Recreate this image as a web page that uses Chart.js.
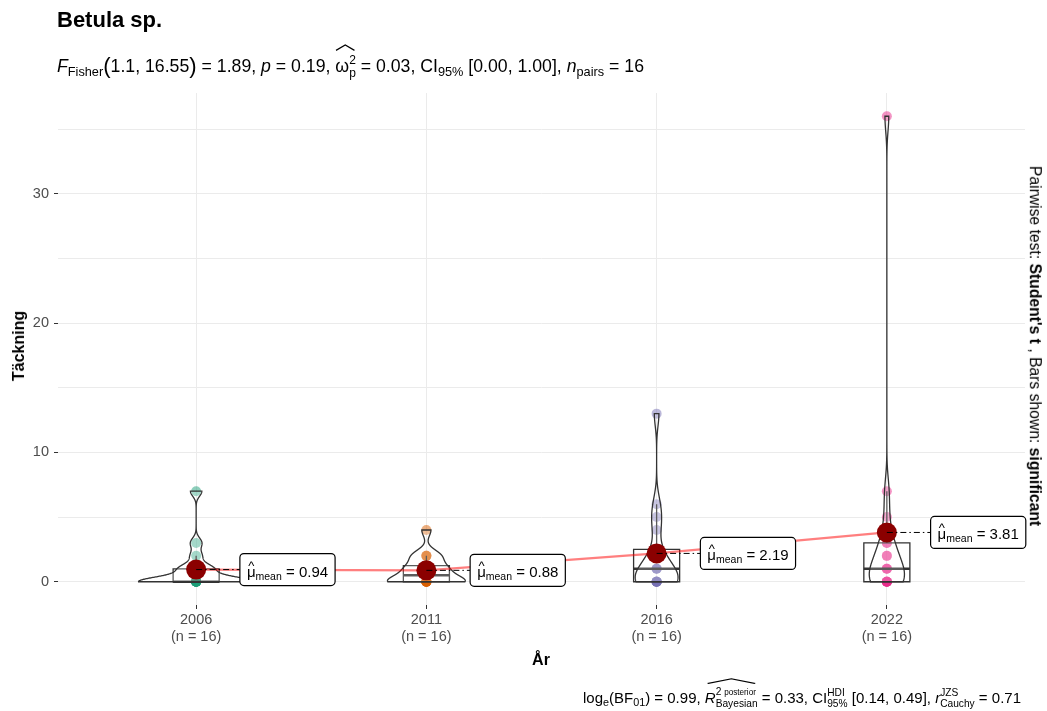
<!DOCTYPE html>
<html>
<head>
<meta charset="utf-8">
<script src="https://cdn.jsdelivr.net/npm/chart.js@4.4.1/dist/chart.umd.min.js"></script>
<style>
  body { margin: 0; background: #fff; font-family: "Liberation Sans", Arial, sans-serif; }
  #wrap { position: relative; width: 1047px; height: 711px; overflow: hidden; }
  #chart { position: absolute; left: 0; top: 0; }
  .txt { position: absolute; white-space: nowrap; color: #000; line-height: 1; }
  .sb { font-size: 0.72em; position: relative; top: 0.3em; }
  .st { display: inline-block; font-size: 0.68em; line-height: 1.1; vertical-align: -0.42em; text-align: left; }
  .st > span { display: block; }
  .hw { position: relative; display: inline-block; }
  .hat { position: absolute; left: 0; width: 100%; top: -0.55em; height: 0.4em; overflow: visible; }
  .par { font-size: 1.25em; position: relative; top: 0.05em; }
  #title { left: 57px; top: 9px; font-size: 22px; font-weight: bold; }
  #subtitle { left: 57px; top: 54px; font-size: 17.7px; }
  #ytitle { left: 19px; top: 346px; font-size: 16px; font-weight: bold; transform: translate(-50%, -50%) rotate(-90deg); }
  #xtitle { left: 541px; top: 660px; font-size: 16px; font-weight: bold; transform: translate(-50%, -50%); }
  #caption { right: 26px; top: 686px; font-size: 15px; }
  #sidetext { left: 1035px; top: 346px; font-size: 15.7px; transform: translate(-50%, -50%) rotate(90deg); }
</style>
</head>
<body>
<div id="wrap">
  <canvas id="chart" width="1047" height="711"></canvas>
  <div id="title" class="txt">Betula sp.</div>
  <div id="subtitle" class="txt"><i>F</i><span class="sb">Fisher</span><span class="par">(</span>1.1, 16.55<span class="par">)</span> = 1.89, <i>p</i> = 0.19, <span class="hw">ω<span class="st"><span>2</span><span>p</span></span><svg class="hat" viewBox="0 0 20 6" preserveAspectRatio="none"><path d="M1 5.5 L10 0.8 L19 5.5" fill="none" stroke="#000" stroke-width="1.2"/></svg></span> = 0.03, CI<span class="sb">95%</span> [0.00, 1.00], <i>n</i><span class="sb">pairs</span> = 16</div>
  <div id="ytitle" class="txt">Täckning</div>
  <div id="xtitle" class="txt">År</div>
  <div id="caption" class="txt">log<span class="sb">e</span>(BF<span class="sb">01</span>) = 0.99, <span class="hw"><i>R</i><span class="st"><span>2 <span style="font-size:0.8em">posterior</span></span><span>Bayesian</span></span><svg class="hat" viewBox="0 0 20 6" preserveAspectRatio="none"><path d="M1 5.5 L10 0.8 L19 5.5" fill="none" stroke="#000" stroke-width="1"/></svg></span> = 0.33, CI<span class="st"><span>HDI</span><span>95%</span></span> [0.14, 0.49], <i>r</i><span class="st"><span>JZS</span><span>Cauchy</span></span> = 0.71</div>
  <div id="sidetext" class="txt">Pairwise test: <b>Student's t</b> , Bars shown: <b>significant</b></div>
</div>
<script>
// cover (Täckning) per plot, one array per survey year
const years = ["2006", "2011", "2016", "2022"];
const groupSizes = [16, 16, 16, 16];
const cover2006 = [7, 3, 2, 1, 1, 1, 0, 0, 0, 0, 0, 0, 0, 0, 0, 0];
const cover2011 = [4, 2, 2, 2, 1, 1, 1, 1, 0, 0, 0, 0, 0, 0, 0, 0];
const cover2016 = [13, 6, 5, 4, 2, 2, 1, 1, 1, 0, 0, 0, 0, 0, 0, 0];
const cover2022 = [36, 7, 5, 3, 3, 2, 2, 1, 1, 1, 0, 0, 0, 0, 0, 0];
const meanValues = [0.94, 0.88, 2.19, 3.81];
const yTickValues = [0, 5, 10, 15, 20, 25, 30, 35];

const groups = [cover2006, cover2011, cover2016, cover2022];
const colors = ["#1B9E77", "#D95F02", "#7570B3", "#E7298A"];
const FONT = '"Liberation Sans", Arial, sans-serif';

function alpha(hex, a) {
  const n = parseInt(hex.slice(1), 16);
  return "rgba(" + (n >> 16) + "," + ((n >> 8) & 255) + "," + (n & 255) + "," + a + ")";
}

// type 7 quantile like R
function quantile(sorted, p) {
  const h = (sorted.length - 1) * p;
  const lo = Math.floor(h), hi = Math.ceil(h);
  return sorted[lo] + (h - lo) * (sorted[hi] - sorted[lo]);
}

function bwNrd0(v) {
  const n = v.length;
  const m = v.reduce((a, b) => a + b, 0) / n;
  const sd = Math.sqrt(v.reduce((a, b) => a + (b - m) * (b - m), 0) / (n - 1));
  const s = v.slice().sort((a, b) => a - b);
  const iqr = quantile(s, 0.75) - quantile(s, 0.25);
  let lo = Math.min(sd, iqr / 1.34);
  if (!lo) lo = sd || 1;
  return 0.9 * lo * Math.pow(n, -0.2);
}

function kde(v, n) {
  const bw = bwNrd0(v);
  const from = Math.min(...v), to = Math.max(...v);
  const out = [];
  for (let i = 0; i < n; i++) {
    const y = from + (to - from) * i / (n - 1);
    let s = 0;
    v.forEach(x => {
      const z = (y - x) / bw;
      s += Math.exp(-0.5 * z * z);
    });
    out.push({ y: y, d: s / (v.length * bw * Math.sqrt(2 * Math.PI)) });
  }
  return out;
}

// violin outlines, scaled by area (same max across groups)
const violins = groups.map(g => kde(g, 512));
const maxD = Math.max(...violins.map(v => Math.max(...v.map(p => p.d))));

// box stats
const boxes = groups.map(g => {
  const s = g.slice().sort((a, b) => a - b);
  const q1 = quantile(s, 0.25), med = quantile(s, 0.5), q3 = quantile(s, 0.75);
  const iqr = q3 - q1;
  const lo = Math.min(...s.filter(x => x >= q1 - 1.5 * iqr));
  const hi = Math.max(...s.filter(x => x <= q3 + 1.5 * iqr));
  return { q1, med, q3, lo, hi };
});

function drawShapes(chart) {
  const ctx = chart.ctx, xs = chart.scales.x, ys = chart.scales.y;
  ctx.save();
  ctx.strokeStyle = "#333333";
  // boxes
  boxes.forEach((b, i) => {
    const c = i + 1;
    const x0 = xs.getPixelForValue(c - 0.1), x1 = xs.getPixelForValue(c + 0.1), xc = xs.getPixelForValue(c);
    ctx.lineWidth = 1.3;
    ctx.beginPath();
    ctx.rect(x0, ys.getPixelForValue(b.q3), x1 - x0, ys.getPixelForValue(b.q1) - ys.getPixelForValue(b.q3));
    ctx.moveTo(xc, ys.getPixelForValue(b.q3));
    ctx.lineTo(xc, ys.getPixelForValue(b.hi));
    ctx.moveTo(xc, ys.getPixelForValue(b.q1));
    ctx.lineTo(xc, ys.getPixelForValue(b.lo));
    ctx.stroke();
    ctx.lineWidth = 2.4;
    ctx.beginPath();
    ctx.moveTo(x0, ys.getPixelForValue(b.med));
    ctx.lineTo(x1, ys.getPixelForValue(b.med));
    ctx.stroke();
  });
  // violins
  ctx.lineWidth = 1.3;
  violins.forEach((v, i) => {
    const c = i + 1;
    ctx.beginPath();
    v.forEach((p, k) => {
      const px = xs.getPixelForValue(c + 0.25 * p.d / maxD);
      const py = ys.getPixelForValue(p.y);
      if (k) ctx.lineTo(px, py); else ctx.moveTo(px, py);
    });
    for (let k = v.length - 1; k >= 0; k--) {
      const p = v[k];
      ctx.lineTo(xs.getPixelForValue(c - 0.25 * p.d / maxD), ys.getPixelForValue(p.y));
    }
    ctx.closePath();
    ctx.fillStyle = "rgba(255,255,255,0.2)";
    ctx.fill();
    ctx.stroke();
  });
  ctx.restore();
}

function roundRect(ctx, x, y, w, h, r) {
  ctx.beginPath();
  ctx.moveTo(x + r, y);
  ctx.arcTo(x + w, y, x + w, y + h, r);
  ctx.arcTo(x + w, y + h, x, y + h, r);
  ctx.arcTo(x, y + h, x, y, r);
  ctx.arcTo(x, y, x + w, y, r);
  ctx.closePath();
}

function drawMeanLabels(chart) {
  const ctx = chart.ctx, xs = chart.scales.x, ys = chart.scales.y;
  ctx.save();
  meanValues.forEach((m, i) => {
    const px = xs.getPixelForValue(i + 1), py = ys.getPixelForValue(m);
    const lx = xs.getPixelForValue(i + 1.19);
    const rest = " = " + m.toFixed(2);
    ctx.font = "15px " + FONT;
    const wMu = ctx.measureText("μ").width, wRest = ctx.measureText(rest).width;
    ctx.font = "10.5px " + FONT;
    const wSub = ctx.measureText("mean").width;
    const w = wMu + wSub + wRest + 14, h = 32;
    // dot-dash leader
    ctx.strokeStyle = "#000";
    ctx.lineWidth = 1;
    ctx.setLineDash([6, 3, 1.5, 3]);
    ctx.beginPath();
    ctx.moveTo(px, py);
    ctx.lineTo(lx, py);
    ctx.stroke();
    ctx.setLineDash([]);
    roundRect(ctx, lx, py - h / 2, w, h, 4);
    ctx.fillStyle = "#fff";
    ctx.fill();
    ctx.lineWidth = 1.2;
    ctx.stroke();
    // text
    const base = py + 7;
    let x = lx + 7;
    ctx.fillStyle = "#000";
    ctx.textBaseline = "alphabetic";
    ctx.textAlign = "left";
    ctx.font = "15px " + FONT;
    ctx.fillText("μ", x, base);
    ctx.font = "13px " + FONT;
    ctx.textAlign = "center";
    ctx.fillText("^", x + wMu / 2, base - 7);
    ctx.textAlign = "left";
    x += wMu;
    ctx.font = "10.5px " + FONT;
    ctx.fillText("mean", x, base + 3);
    x += wSub;
    ctx.font = "15px " + FONT;
    ctx.fillText(rest, x, base);
  });
  ctx.restore();
}

const shapesPlugin = {
  id: "withinShapes",
  beforeDatasetDraw(chart, args) {
    if (args.index === 4) drawShapes(chart);
  },
  afterDatasetsDraw(chart) {
    drawMeanLabels(chart);
  }
};

const datasets = groups.map((g, i) => ({
  type: "scatter",
  label: years[i],
  data: g.map(v => ({ x: i + 1, y: v })),
  backgroundColor: alpha(colors[i], 0.5),
  borderWidth: 0,
  pointRadius: 5,
  order: 2
}));
datasets.push({
  type: "line",
  label: "mean path",
  data: meanValues.map((m, i) => ({ x: i + 1, y: m })),
  borderColor: "rgba(255,0,0,0.5)",
  borderWidth: 2.2,
  pointRadius: 0,
  fill: false,
  order: 1
});
datasets.push({
  type: "scatter",
  label: "mean",
  data: meanValues.map((m, i) => ({ x: i + 1, y: m })),
  backgroundColor: "#8B0000",
  borderWidth: 0,
  pointRadius: 10,
  order: 0
});

new Chart(document.getElementById("chart"), {
  type: "scatter",
  data: { datasets: datasets },
  plugins: [shapesPlugin],
  options: {
    responsive: false,
    animation: false,
    layout: { padding: { top: 93, right: 22, left: 0, bottom: 0 } },
    plugins: { legend: { display: false }, tooltip: { enabled: false } },
    scales: {
      x: {
        type: "linear",
        min: 0.4,
        max: 4.6,
        afterFit: s => { s.height = 106; },
        afterBuildTicks: s => { s.ticks = years.map((y, i) => ({ value: i + 1 })); },
        border: { display: false },
        grid: { color: "#EBEBEB", lineWidth: 1, tickColor: "#333333", tickLength: 4 },
        ticks: {
          color: "#4D4D4D",
          font: { family: FONT, size: 14.5 },
          padding: 2,
          maxRotation: 0,
          autoSkip: false,
          callback: v => [years[v - 1], "(n = " + groupSizes[v - 1] + ")"]
        }
      },
      y: {
        type: "linear",
        min: -1.8,
        max: 37.8,
        afterFit: s => { s.width = 58; },
        afterBuildTicks: s => { s.ticks = yTickValues.map(v => ({ value: v })); },
        border: { display: false },
        grid: {
          color: "#EBEBEB",
          lineWidth: 1,
          tickLength: 4,
          tickColor: c => (c.tick && c.tick.value % 10 === 0 ? "#333333" : "rgba(0,0,0,0)")
        },
        ticks: {
          color: "#4D4D4D",
          font: { family: FONT, size: 14.5 },
          padding: 5,
          callback: v => (v % 10 === 0 ? String(v) : "")
        }
      }
    }
  }
});
</script>
</body>
</html>
